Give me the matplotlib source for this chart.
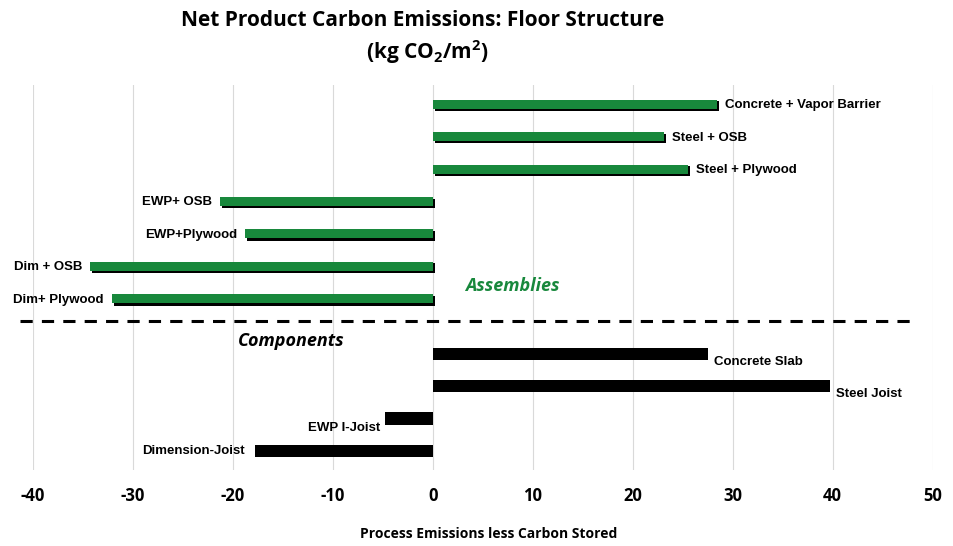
import matplotlib.pyplot as plt
import numpy as np

# Assemblies (green) and components (black), top to bottom
assembly_labels = ['Concrete + Vapor Barrier', 'Steel + OSB', 'Steel + Plywood',
                   'EWP+ OSB', 'EWP+Plywood', 'Dim + OSB', 'Dim+ Plywood']
assembly_values = [28.4, 23.1, 25.5, -21.3, -18.8, -34.3, -32.1]

component_labels = ['Concrete Slab', 'Steel Joist', 'EWP I-Joist', 'Dimension-Joist']
component_values = [27.5, 39.7, -4.8, -17.8]

x_ticks = [-40, -30, -20, -10, 0, 10, 20, 30, 40, 50]

green = '#18883c'
title_font = ['Open Sans', 'DejaVu Sans']
plt.rcParams['mathtext.fontset'] = 'custom'
plt.rcParams['mathtext.rm'] = 'Open Sans'
plt.rcParams['mathtext.bf'] = 'Open Sans:bold'

fig = plt.figure(figsize=(9.54, 5.46), dpi=100)
ax = fig.add_axes([0.0346, 0.139, 0.943, 0.705])

# slot positions (top to bottom), components after a gap
y_asm = np.arange(len(assembly_values))
y_cmp = np.arange(len(component_values)) + len(assembly_values) + 0.7

# green bars with a dark drop shadow
for y, v in zip(y_asm, assembly_values):
    left = min(v, 0)
    ax.barh(y + 0.06, abs(v), left=left + 0.25, height=0.30, color='black', zorder=2)
    ax.barh(y, abs(v), left=left, height=0.28, color=green, zorder=3)

for y, v in zip(y_cmp, component_values):
    ax.barh(y, abs(v), left=min(v, 0), height=0.38, color='black', zorder=3)

# assembly labels
for y, v, lab in zip(y_asm, assembly_values, assembly_labels):
    if v > 0:
        ax.text(v + 0.8, y + 0.03, lab, ha='left', va='center', fontsize=9.5,
                fontweight='bold', family='Liberation Sans', zorder=4)
    else:
        ax.text(v - 0.8, y + 0.03, lab, ha='right', va='center', fontsize=9.5,
                fontweight='bold', family='Liberation Sans', zorder=4)

# component labels
cmp_offsets = [(0.6, 0.25, 'left'), (0.6, 0.25, 'left'), (-0.5, 0.3, 'right'), (-1.0, 0.0, 'right')]
for y, v, lab, (dx, dy, ha) in zip(y_cmp, component_values, component_labels, cmp_offsets):
    ax.text(v + dx, y + dy, lab, ha=ha, va='center', fontsize=9.5,
            fontweight='bold', family='Liberation Sans', zorder=4)

# divider and group names
ax.plot([-41.3, 48.3], [6.7, 6.7], color='black', lw=2.2, ls=(0, (4, 3)),
        clip_on=False, zorder=4)
ax.text(3.2, 5.6, 'Assemblies', ha='left', va='center', fontsize=13,
        fontweight='bold', style='italic', color=green, family=title_font)
ax.text(-19.5, 7.3, 'Components', ha='left', va='center', fontsize=13,
        fontweight='bold', style='italic', color='black', family=title_font)

ax.set_xlim(-40, 50)
ax.set_ylim(y_cmp[-1] + 0.59, -0.59)
ax.set_xticks(x_ticks)
ax.set_xticklabels([str(t) for t in x_ticks], fontsize=12, fontweight='bold',
                   family=title_font)
ax.set_yticks([])
ax.tick_params(axis='x', length=0, pad=12)
ax.grid(axis='x', color='#d9d9d9', lw=0.8, zorder=0)
for s in ax.spines.values():
    s.set_visible(False)

fig.text(0.512, 0.022, 'Process Emissions less Carbon Stored', ha='center',
         va='center', fontsize=10, fontweight='bold', family=title_font)

fig.text(0.443, 0.963, 'Net Product Carbon Emissions: Floor Structure', ha='center',
         va='center', fontsize=15, fontweight='bold', family=title_font)
fig.text(0.448, 0.905, r'(kg CO$_\mathbf{2}$/m$^\mathbf{2}$)', ha='center',
         va='center', fontsize=15, fontweight='bold', family=title_font)

fig.savefig('out.png', dpi=100)
